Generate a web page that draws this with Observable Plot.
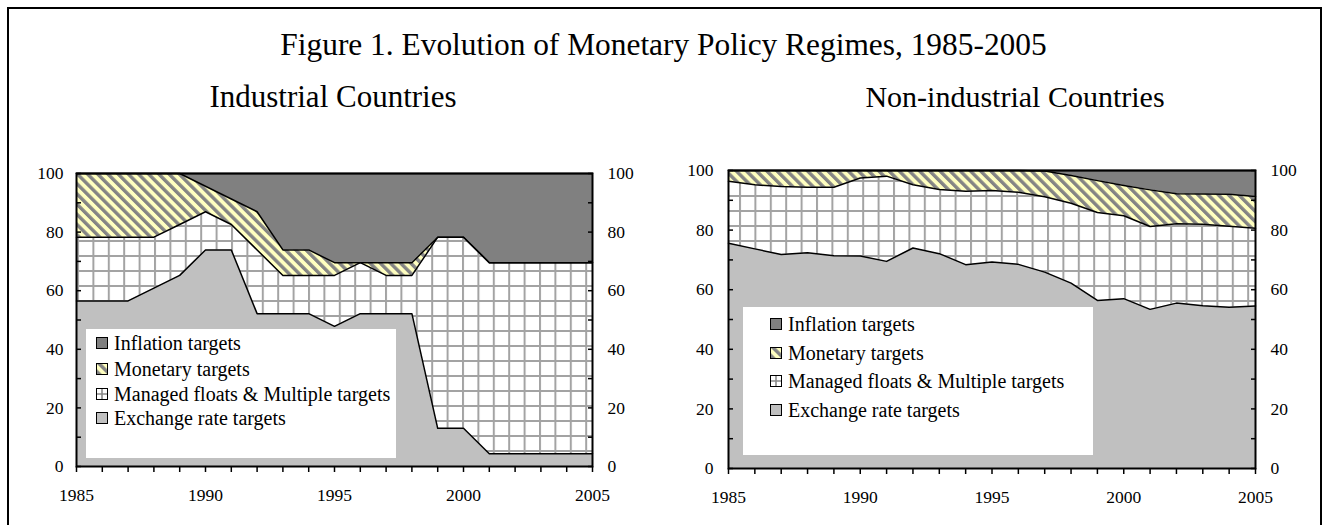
<!DOCTYPE html>
<html>
<head>
<meta charset="utf-8">
<script src="https://cdn.jsdelivr.net/npm/d3@7"></script>
<script src="https://cdn.jsdelivr.net/npm/@observablehq/plot@0.6"></script>
<style>
  html, body { margin: 0; padding: 0; background: #fff; }
  #page { position: relative; width: 1325px; height: 525px; overflow: hidden;
          font-family: "Liberation Serif", "Times New Roman", serif; color: #000; }
  .border { position: absolute; left: 7px; top: 7px; width: 1311px; height: 560px;
            border: 2.5px solid #000; }
  .txt { position: absolute; white-space: nowrap; line-height: 30px; font-size: 30px; text-align: center; }
  .chart { position: absolute; top: 150px; }
  .legend { position: absolute; background: #fff; }
  .row { position: absolute; display: flex; align-items: center; font-size: 20px; line-height: 22px; white-space: nowrap; }
  .row svg { display: block; margin-right: 6px; }
</style>
</head>
<body>
<div id="page">
  <svg width="0" height="0" style="position:absolute">
    <defs>
      <pattern id="hatch" patternUnits="userSpaceOnUse" width="7.2" height="7.2" patternTransform="rotate(-45)">
        <rect width="7.2" height="7.2" fill="#ffffc0"></rect>
        <rect width="3.4" height="7.2" fill="#848484"></rect>
      </pattern>
      <pattern id="grid" patternUnits="userSpaceOnUse" width="15.4" height="15">
        <rect width="15.4" height="15" fill="#ffffff"></rect>
        <path d="M1,0V15M0,1H15.4" stroke="#a3a3a3" stroke-width="2"></path>
      </pattern>
    </defs>
  </svg>
  <div class="border"></div>
  <div class="txt" id="title" style="left:0;width:1327px;top:30px;font-size:31.4px;"></div>
  <div class="txt" id="sub1" style="left:0;width:666px;top:82px;font-size:31px;"></div>
  <div class="txt" id="sub2" style="left:710px;width:610px;top:82px;"></div>
</div>
<script>
// ---------- text ----------
const titleText = "Figure 1. Evolution of Monetary Policy Regimes, 1985-2005";
const subtitles = ["Industrial Countries", "Non-industrial Countries"];

// ---------- categories ----------
const years = [1985, 1986, 1987, 1988, 1989, 1990, 1991, 1992, 1993, 1994, 1995,
               1996, 1997, 1998, 1999, 2000, 2001, 2002, 2003, 2004, 2005];
// stack order, bottom to top
const regimes = ["Exchange rate targets", "Managed floats & Multiple targets",
                 "Monetary targets", "Inflation targets"];
const regimeFills = ["#c0c0c0", "url(#grid)", "url(#hatch)", "#808080"];

// ---------- Industrial countries (percent of countries) ----------
const indExchange  = [56.52, 56.52, 56.52, 60.87, 65.22, 73.91, 73.91, 52.17, 52.17, 52.17, 47.83,
                      52.17, 52.17, 52.17, 13.04, 13.04, 4.35, 4.35, 4.35, 4.35, 4.35];
const indManaged   = [21.74, 21.74, 21.74, 17.39, 17.39, 13.04, 8.70, 21.74, 13.04, 13.04, 17.39,
                      17.39, 13.04, 13.04, 65.22, 65.22, 65.22, 65.22, 65.22, 65.22, 65.22];
const indMonetary  = [21.74, 21.74, 21.74, 21.74, 17.39, 8.70, 8.70, 13.04, 8.70, 8.70, 4.35,
                      0, 4.35, 4.35, 0, 0, 0, 0, 0, 0, 0];
const indInflation = [0, 0, 0, 0, 0, 4.35, 8.70, 13.04, 26.09, 26.09, 30.43,
                      30.43, 30.43, 30.43, 21.74, 21.74, 30.43, 30.43, 30.43, 30.43, 30.43];

// ---------- Non-industrial countries (percent of countries) ----------
const nonExchange  = [75.6, 73.7, 71.8, 72.4, 71.4, 71.3, 69.5, 74.0, 72.1, 68.4, 69.3,
                      68.5, 65.9, 62.2, 56.4, 57.0, 53.4, 55.5, 54.6, 54.1, 54.5];
const nonManaged   = [20.8, 21.5, 22.8, 22.0, 23.0, 26.2, 28.6, 21.2, 21.5, 24.6, 24.0,
                      24.2, 25.3, 26.8, 29.5, 27.8, 27.8, 26.6, 27.4, 27.2, 26.1];
const nonMonetary  = [3.6, 4.8, 5.4, 5.6, 5.6, 2.5, 1.9, 4.8, 6.4, 7.0, 6.7,
                      7.3, 8.6, 9.3, 10.7, 10.2, 12.3, 10.1, 10.1, 10.7, 10.7];
const nonInflation = [0, 0, 0, 0, 0, 0, 0, 0, 0, 0, 0,
                      0, 0.2, 1.7, 3.4, 5.0, 6.5, 7.8, 7.9, 8.0, 8.7];

// ---------- ticks ----------
const yTickLabels = [0, 20, 40, 60, 80, 100];
const yTickMarks  = [0, 10, 20, 30, 40, 50, 60, 70, 80, 90, 100];
const xTickLabels = [1985, 1990, 1995, 2000, 2005];

// ---------- build ----------
document.getElementById("title").textContent = titleText;
document.getElementById("sub1").textContent = subtitles[0];
document.getElementById("sub2").textContent = subtitles[1];

function tidy(series) {
  const out = [];
  years.forEach((year, i) => regimes.forEach((regime, j) => out.push({year, regime, value: series[j][i]})));
  return out;
}

function chart(data, o) {
  return Plot.plot({
    width: o.width, height: 375,
    marginLeft: o.ml, marginRight: o.mr, marginTop: o.mt, marginBottom: o.mb,
    style: {fontFamily: "'Liberation Serif', 'Times New Roman', serif", fontSize: "17.5px", color: "#000", background: "transparent", overflow: "visible"},
    x: {domain: [1985, 2005]},
    y: {domain: [0, 100]},
    color: {type: "ordinal", domain: regimes, range: regimeFills},
    marks: [
      Plot.areaY(data, {x: "year", y: "value", z: "regime", fill: "regime", order: regimes, curve: "linear"}),
      Plot.lineY(data, Plot.stackY2({x: "year", y: "value", z: "regime", order: regimes, stroke: "#000", strokeWidth: 1.5, curve: "linear"})),
      Plot.frame({stroke: "#000", strokeWidth: 2}),
      Plot.axisY({ticks: yTickMarks, anchor: "left", tickSize: 5, dx: 5, tickFormat: () => "", label: null, strokeWidth: 1.5}),
      Plot.axisY({ticks: yTickMarks, anchor: "right", tickSize: 5, dx: -5, tickFormat: () => "", label: null, strokeWidth: 1.5}),
      Plot.axisY({ticks: yTickLabels, anchor: "left", tickSize: 0, tickPadding: o.padL, label: null}),
      Plot.axisY({ticks: yTickLabels, anchor: "right", tickSize: 0, tickPadding: o.padR, label: null}),
      Plot.axisX({ticks: years, anchor: "bottom", tickSize: 6, tickFormat: () => "", label: null, strokeWidth: 1.5}),
      Plot.axisX({ticks: xTickLabels, anchor: "bottom", tickSize: 0, tickPadding: 22, tickFormat: d => String(d), label: null})
    ]
  });
}

const page = document.getElementById("page");

const c1 = chart(tidy([indExchange, indManaged, indMonetary, indInflation]),
                 {width: 662, ml: 76, mr: 70, mt: 23, mb: 59, padL: 13, padR: 15});
c1.classList.add("chart"); c1.style.left = "0px"; c1.style.position = "absolute"; c1.style.top = "150px";
page.appendChild(c1);

const c2 = chart(tidy([nonExchange, nonManaged, nonMonetary, nonInflation]),
                 {width: 663, ml: 66, mr: 70, mt: 20, mb: 57, padL: 15, padR: 15});
c2.classList.add("chart"); c2.style.left = "662px"; c2.style.position = "absolute"; c2.style.top = "150px";
page.appendChild(c2);

// ---------- legends ----------
const legendOrder = [regimes[3], regimes[2], regimes[1], regimes[0]];
function swatch(regime) {
  const i = regimes.indexOf(regime);
  const s = 11;
  let inner = `<rect x="0.5" y="0.5" width="${s}" height="${s}" fill="${regimeFills[i]}" stroke="#000" stroke-width="1"/>`;
  if (i === 1) {
    inner = `<rect x="0.5" y="0.5" width="${s}" height="${s}" fill="#fff"/>` +
            `<path d="M6,0.5V11.5M0.5,6H11.5" stroke="#8a8a8a" stroke-width="1.6"/>` +
            `<rect x="0.5" y="0.5" width="${s}" height="${s}" fill="none" stroke="#000" stroke-width="1"/>`;
  }
  return `<svg width="${s + 1}" height="${s + 1}">${inner}</svg>`;
}
function legend(box, swX, rowYs) {
  const d = document.createElement("div");
  d.className = "legend";
  Object.assign(d.style, {left: box[0] + "px", top: box[1] + "px", width: box[2] + "px", height: box[3] + "px"});
  legendOrder.forEach((r, k) => {
    const row = document.createElement("div");
    row.className = "row";
    row.style.left = swX + "px";
    row.style.top = (rowYs[k] - 11) + "px";
    row.innerHTML = swatch(r) + `<span></span>`;
    row.querySelector("span").textContent = r;
    d.appendChild(row);
  });
  page.appendChild(d);
}
legend([86, 329, 310, 129], 10, [14, 40, 65, 89]);
legend([743, 307, 350, 148], 27, [17, 46, 74, 103]);
</script>
</body>
</html>
